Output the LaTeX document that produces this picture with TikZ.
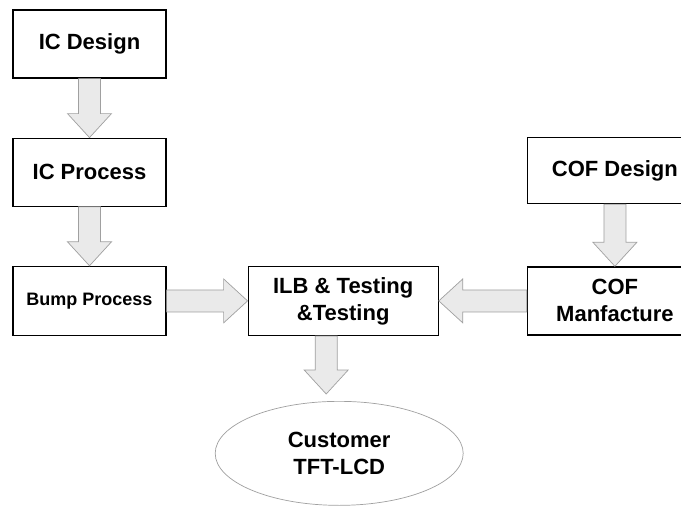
\documentclass[tikz,border=0pt]{standalone}
\usepackage{fontspec}
\setmainfont{Liberation Sans}
\usepackage{tikz}
\usetikzlibrary{calc, positioning, shapes.geometric}

\definecolor{arrowfill}{HTML}{EAEAEA}
\definecolor{arrowline}{HTML}{A0A0A0}

\tikzset{
    stagebox/.style={draw=black, line width=1.2pt, fill=white, align=center,
        minimum width=153pt, minimum height=68pt, inner sep=2pt,
        font=\fontsize{22}{27}\selectfont\bfseries},
    fatarrow/.style={draw=arrowline, fill=arrowfill, line width=0.7pt,
        to path={
            ($(\tikztostart)!11pt!90:(\tikztotarget)$)
            -- ($(\tikztotarget)!24pt!(\tikztostart)!11pt!-90:(\tikztostart)$)
            -- ($(\tikztotarget)!24pt!(\tikztostart)!22pt!-90:(\tikztostart)$)
            -- (\tikztotarget)
            -- ($(\tikztotarget)!24pt!(\tikztostart)!22pt!90:(\tikztostart)$)
            -- ($(\tikztotarget)!24pt!(\tikztostart)!11pt!90:(\tikztostart)$)
            -- ($(\tikztostart)!11pt!-90:(\tikztotarget)$)
            -- cycle}}
}

\begin{document}
\begin{tikzpicture}[x=1pt, y=-1pt]

    \useasboundingbox[fill=white] (0,0) rectangle (681,506);

    % IC column on the left
    \node[stagebox] (icd) at (89.5,44) {IC Design};
    \node[stagebox, below=59pt of icd] (icp) {IC Process};
    \node[stagebox, below=59pt of icp, minimum height=69pt,
        font=\fontsize{18}{22}\selectfont\bfseries] (bump) {Bump Process};

    % bonding in the middle
    \node[stagebox, right=81pt of bump, minimum width=190pt, minimum height=69pt] (ilb)
        {ILB \& Testing\\\&Testing};
    \node[ellipse, draw=arrowline, line width=0.7pt, minimum width=248pt,
        minimum height=104pt, align=center, font=\fontsize{22}{27}\selectfont\bfseries,
        below=65pt of ilb, xshift=-4pt] (cust) {Customer\\TFT-LCD};

    % COF column on the right
    \node[stagebox, right=88pt of ilb, minimum width=175pt] (cofm) {COF\\Manfacture};
    \node[stagebox, above=62pt of cofm, minimum width=175pt, minimum height=66pt] (cofd)
        {COF Design};

    % block arrows
    \draw[fatarrow] (icd.south) to (icp.north);
    \draw[fatarrow] (icp.south) to (bump.north);
    \draw[fatarrow] (bump.east) to (ilb.west);
    \draw[fatarrow] (cofd.south) to (cofm.north);
    \draw[fatarrow] (cofm.west) to (ilb.east);
    \draw[fatarrow] ($(ilb.south)+(-17pt,0)$) to ($(ilb.south |- cust.north)+(-17pt,7pt)$);

\end{tikzpicture}
\end{document}
